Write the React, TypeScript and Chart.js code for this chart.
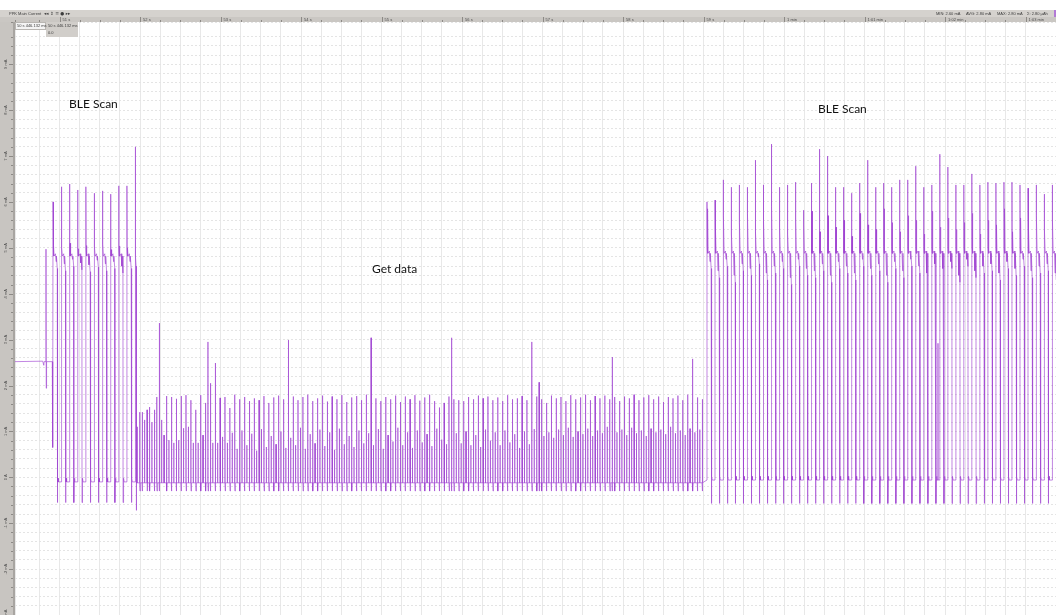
import React, { useEffect, useRef } from "react";
import { Chart, registerables } from "chart.js";

Chart.register(...registerables);

// ---------------- axes (time in s, current in mA) ----------------
const TIME_START = 50.446;
const TIME_END = 63.378;
const CURRENT_MIN = -3.0;
const CURRENT_MAX = 9.92;

const timeTickSeconds = [51, 52, 53, 54, 55, 56, 57, 58, 59, 60, 61, 62, 63];
const timeTickLabels = ["51 s", "52 s", "53 s", "54 s", "55 s", "56 s", "57 s", "58 s", "59 s", "1 min", "1:01 min", "1:02 min", "1:03 min"];
const currentTickValues = [9, 8, 7, 6, 5, 4, 3, 2, 1, 0, -1, -2, -3];
const currentTickLabels = ["9 mA", "8 mA", "7 mA", "6 mA", "5 mA", "4 mA", "3 mA", "2 mA", "1 mA", "0 A", "-1 mA", "-2 mA", "-3 mA"];

const statLabels = ["MIN: 2.60 mA", "AVG: 2.80 mA", "MAX: 2.80 mA", "Σ: 2.80 µAh"];
const cursorLabel = "50 s 446.132 ms";
const cursorValue = "0.0";
const channelLabel = "PPK Main Current";

// ---------------- idle section before the first scan: [time s, current mA] ----------------
const idleTrace = [
  [50.446, 2.52], [50.790, 2.53], [50.804, 2.44], [50.807, 2.52], [50.829, 2.52],
  [50.831, 4.97], [50.834, 1.94], [50.838, 2.52], [50.909, 2.52], [50.914, 0.65],
];

// ---------------- BLE scan 1 ----------------
const scan1Start = 50.918;
const scan1Period = 0.102;
const scan1Plateau = 4.82;
const scan1Floor = -0.1;
const scan1Dip = -0.55;
const scan1Peaks = [6.0, 6.33, 6.39, 6.26, 6.33, 6.19, 6.24, 6.17, 6.35, 6.35];
const scan1Bumps = [5.05, 5.0, 5.1, 4.98, 5.05, 5.02, 5.08, 4.96, 5.04, 5.0];
const scan1Lows = [4.55, 4.5, 4.6, 4.52, 4.48, 4.58, 4.5, 4.55, 4.45, 4.55];
const scan1Tail = [
  [51.938, -0.1], [51.9385, 7.2], [51.942, 5.0], [51.946, 4.82], [51.95, 4.6], [51.9525, -0.72], [51.957, -0.12],
];

// ---------------- Get data ----------------
const getDataStart = 51.965;
const getDataSpacing = 0.03025;
const getDataFloor = -0.12;
const getDataDip = -0.3;
const getDataPeaks = [
  1.10, 1.42, 1.42, 1.25, 1.47, 1.53, 1.20, 1.47, 1.75, 3.36,
  1.25, 0.92, 1.77, 0.81, 1.75, 0.75, 1.71, 0.81, 1.77, 1.07,
  1.79, 1.10, 1.68, 0.75, 1.47, 0.75, 1.79, 0.92, 1.62, 2.95,
  2.05, 0.75, 2.49, 0.75, 1.73, 0.88, 1.75, 0.75, 1.51, 0.97,
  1.80, 0.62, 1.70, 1.02, 1.75, 0.70, 1.66, 0.95, 1.72, 0.58,
  1.68, 1.05, 1.77, 0.66, 1.62, 0.90, 1.74, 0.72, 1.78, 1.00,
  1.70, 0.64, 2.99, 0.86, 1.76, 0.70, 1.68, 1.08, 1.75, 0.62,
  1.80, 0.94, 1.66, 0.74, 1.72, 1.04, 1.78, 0.68, 1.65, 0.98,
  1.76, 0.60, 1.70, 1.06, 1.79, 0.72, 1.64, 0.90, 1.74, 0.66,
  1.77, 1.02, 1.68, 0.74, 1.80, 0.96, 3.04, 0.70, 1.72, 1.05,
  1.66, 0.62, 1.75, 0.92, 1.70, 0.78, 1.78, 1.08, 1.64, 0.70,
  1.76, 0.98, 1.70, 0.64, 1.79, 1.02, 1.67, 0.76, 1.74, 0.94,
  1.80, 0.68, 1.66, 1.06, 1.52, 0.82, 1.62, 0.72, 1.76, 3.04,
  1.70, 0.96, 1.68, 0.74, 1.66, 1.00, 1.75, 0.70, 1.70, 0.92,
  1.78, 0.66, 1.72, 1.04, 1.76, 0.80, 1.68, 0.98, 1.74, 0.70,
  1.66, 1.02, 1.79, 0.76, 1.70, 0.94, 1.72, 0.64, 1.77, 1.00,
  1.68, 0.72, 2.95, 1.05, 1.76, 2.07, 1.70, 0.90, 1.62, 0.98,
  1.78, 0.86, 1.72, 1.04, 1.75, 0.92, 1.66, 1.08, 1.79, 0.88,
  1.70, 1.00, 1.74, 0.94, 1.80, 1.06, 1.68, 0.90, 1.77, 1.02,
  1.72, 0.96, 1.78, 1.10, 1.70, 2.62, 1.75, 0.98, 1.66, 1.04,
  1.76, 0.92, 1.72, 1.08, 1.80, 0.96, 1.68, 1.02, 1.74, 0.90,
  1.79, 1.06, 1.70, 0.98, 1.76, 1.04, 1.64, 0.94, 1.75, 1.10,
  1.72, 0.96, 1.78, 1.02, 1.68, 0.92, 1.80, 1.06, 2.58, 0.98,
  1.74, 1.04, 1.70,
];

// ---------------- BLE scan 2 ----------------
const scan2Start = 59.042;
const scan2Period = 0.0997;
const scan2Plateau = 4.88;
const scan2Floor = -0.06;
const scan2Dip = -0.57;
const scan2Peaks = [
  6.0, 6.04, 6.48, 6.32, 6.37, 6.32, 6.91, 6.37, 7.26, 6.32,
  6.37, 6.43, 5.82, 6.41, 7.15, 7.0, 6.32, 6.32, 6.19, 6.41,
  6.91, 6.32, 6.41, 6.32, 6.48, 6.48, 6.78, 6.32, 6.37, 7.04,
  6.76, 6.37, 6.37, 6.61, 6.37, 6.43, 6.41, 6.43, 6.43, 6.37,
  6.3, 6.37, 6.17, 6.37,
];
const scan2Bumps = [
  5.85, 5.4, 5.7, 5.3, 5.55, 5.75, 5.35, 5.6, 5.9, 5.45,
  5.3, 5.65, 5.5, 5.8, 5.35, 5.7, 5.45, 5.6, 5.25, 5.75,
  5.5, 5.4, 5.85, 5.55, 5.35, 5.7, 5.6, 5.3, 5.8, 5.45,
  5.65, 5.4, 5.55, 5.75, 5.3, 5.6, 5.5, 5.85, 5.35, 5.65,
  5.45, 5.7, 5.4, 5.6,
];
const scan2Lows = [
  4.55, 4.35, 4.6, 4.25, 4.5, 4.4, 4.65, 4.3, 4.45, 4.55,
  4.2, 4.6, 4.4, 4.35, 4.5, 4.25, 4.55, 4.45, 4.3, 4.6,
  4.4, 4.5, 4.25, 4.55, 4.35, 4.6, 4.45, 4.3, 4.5, 4.4,
  4.55, 4.25, 4.6, 4.35, 4.45, 4.5, 4.3, 4.55, 4.4, 4.6,
  4.35, 4.45, 4.5, 4.3,
];
const scan2Glitches = [
  [59.899, 2.4],
  [61.912, 2.92],
];

type Pt = { x: number; y: number };

function buildTrace(): Pt[] {
  const pts: Pt[] = [];
  const add = (x: number, y: number) => pts.push({ x, y });

  idleTrace.forEach(([t, v]) => add(t, v));

  const cycle = (
    ts: number, T: number, peak: number, bump: number, low: number,
    plateau: number, floor: number, dip: number, skipFloor: boolean
  ) => {
    if (!skipFloor) add(ts, floor);
    add(ts + 0.004 * T, peak);
    add(ts + 0.03 * T, plateau + 0.15);
    add(ts + 0.06 * T, plateau);
    add(ts + 0.09 * T, bump);
    add(ts + 0.14 * T, plateau);
    add(ts + 0.3 * T, plateau + 0.05);
    add(ts + 0.38 * T, low + 0.15);
    add(ts + 0.42 * T, plateau);
    add(ts + 0.52 * T, low);
    add(ts + 0.535 * T, dip);
    add(ts + 0.57 * T, floor);
    add(ts + 0.62 * T, floor + 0.08);
    add(ts + 0.66 * T, floor);
  };

  scan1Peaks.forEach((p, i) => {
    cycle(scan1Start + i * scan1Period, scan1Period, p, scan1Bumps[i], scan1Lows[i],
      scan1Plateau, scan1Floor, scan1Dip, i === 0);
  });
  scan1Tail.forEach(([t, v]) => add(t, v));

  getDataPeaks.forEach((p, i) => {
    const t = getDataStart + i * getDataSpacing;
    add(t - 0.0012, getDataFloor);
    add(t, p);
    add(t + 0.0012, getDataFloor);
    if (p > 1.4) {
      add(t + 0.004, getDataDip);
      add(t + 0.007, getDataFloor);
    }
  });

  scan2Peaks.forEach((p, i) => {
    cycle(scan2Start + i * scan2Period, scan2Period, p, scan2Bumps[i], scan2Lows[i],
      scan2Plateau, scan2Floor, scan2Dip, false);
  });
  scan2Glitches.forEach(([t, v]) => {
    add(t - 0.001, scan2Floor);
    add(t, v);
    add(t + 0.001, scan2Floor);
  });

  pts.sort((a, b) => a.x - b.x);
  return pts;
}

const TINY = "4px 'Liberation Sans', Arial, sans-serif";

const chromePlugin = {
  id: "ppkChrome",
  beforeDraw(chart: any) {
    const { ctx, width, height, chartArea } = chart;
    ctx.save();
    ctx.fillStyle = "#ffffff";
    ctx.fillRect(0, 0, width, height);
    // toolbar band
    ctx.fillStyle = "#d5d2ce";
    ctx.fillRect(0, 10, width, 7);
    // time band
    ctx.fillStyle = "#cac7c3";
    ctx.fillRect(0, 17, width, chartArea.top - 17);
    // left value strip
    ctx.fillStyle = "#c8c5c1";
    ctx.fillRect(0, chartArea.top, chartArea.left - 2, height - chartArea.top);
    ctx.fillStyle = "#a8a5a1";
    ctx.fillRect(chartArea.left - 2, chartArea.top, 2, height - chartArea.top);
    ctx.restore();
  },
  afterDraw(chart: any) {
    const { ctx, width, chartArea, scales } = chart;
    const xs = scales.x;
    const ys = scales.y;
    ctx.save();

    // time band ticks
    ctx.strokeStyle = "#8d8a86";
    ctx.lineWidth = 1;
    xs.ticks.forEach((t: any) => {
      const px = Math.round(xs.getPixelForValue(t.value)) + 0.5;
      const major = Math.abs(t.value - Math.round(t.value)) < 1e-6;
      ctx.beginPath();
      ctx.moveTo(px, major ? 17 : 20);
      ctx.lineTo(px, chartArea.top);
      ctx.stroke();
    });
    ctx.fillStyle = "#4a4a4a";
    ctx.font = TINY;
    ctx.textBaseline = "middle";
    ctx.textAlign = "left";
    timeTickSeconds.forEach((s, i) => {
      const px = xs.getPixelForValue(s);
      ctx.fillText(timeTickLabels[i], px + 3, 19.5);
    });

    // left strip ticks
    ys.ticks.forEach((t: any) => {
      const py = Math.round(ys.getPixelForValue(t.value)) + 0.5;
      const major = Math.abs(t.value - Math.round(t.value)) < 1e-6;
      ctx.beginPath();
      ctx.moveTo(major ? 9 : 11, py);
      ctx.lineTo(chartArea.left - 2, py);
      ctx.stroke();
    });
    ctx.textAlign = "center";
    currentTickValues.forEach((v, i) => {
      const py = ys.getPixelForValue(v);
      ctx.save();
      ctx.translate(5.5, py);
      ctx.rotate(-Math.PI / 2);
      ctx.fillText(currentTickLabels[i], 0, 0);
      ctx.restore();
    });

    // toolbar
    ctx.font = TINY;
    ctx.textAlign = "left";
    ctx.fillStyle = "#3c3c3c";
    ctx.fillText(channelLabel, 9, 13.5);
    ctx.font = "4.5px 'DejaVu Sans', sans-serif";
    ctx.fillText("◂◂ ⇕ ≡ ● ▸▸", 44, 13.5);
    ctx.font = TINY;
    const statX = [936, 966, 997, 1027];
    statLabels.forEach((s, i) => ctx.fillText(s, statX[i], 13.5));
    ctx.fillStyle = "#b27ad6";
    ctx.fillRect(width - 2, 10, 2, 7);

    // cursor readout boxes
    ctx.fillStyle = "#f4f4f4";
    ctx.fillRect(15, 22, 31, 8);
    ctx.strokeStyle = "#b9b6b2";
    ctx.strokeRect(15.5, 22.5, 30, 7);
    ctx.fillStyle = "#d1ceca";
    ctx.fillRect(46, 22, 32, 15);
    ctx.fillStyle = "#3c3c3c";
    ctx.fillText(cursorLabel, 17, 26);
    ctx.fillText(cursorLabel, 48, 26);
    ctx.fillText(cursorValue, 48, 32.5);

    ctx.restore();
  },
};

const annotationStyle: React.CSSProperties = {
  position: "absolute",
  font: "12px Lato, 'Liberation Sans', sans-serif",
  lineHeight: "12px",
  color: "#111",
  whiteSpace: "nowrap",
};

export default function App() {
  const canvasRef = useRef<HTMLCanvasElement | null>(null);

  useEffect(() => {
    document.body.style.margin = "0";
    const canvas = canvasRef.current;
    if (!canvas) return;
    const data = buildTrace();
    const chart = new Chart(canvas, {
      type: "line",
      data: {
        datasets: [
          {
            data: data as any,
            borderColor: "rgba(156, 62, 208, 0.62)",
            borderWidth: 1,
            pointRadius: 0,
            tension: 0,
            fill: false,
          },
        ],
      },
      options: {
        animation: false,
        responsive: false,
        maintainAspectRatio: false,
        devicePixelRatio: 1,
        events: [],
        layout: { padding: { left: 15, top: 22, right: 0, bottom: 0 } },
        plugins: {
          legend: { display: false },
          tooltip: { enabled: false },
          title: { display: false },
        },
        scales: {
          x: {
            type: "linear",
            min: TIME_START,
            max: TIME_END,
            ticks: { display: false, stepSize: 0.25 },
            grid: { color: "#e8e8e8", lineWidth: 1, drawTicks: false },
            border: { display: false },
          },
          y: {
            type: "linear",
            min: CURRENT_MIN,
            max: CURRENT_MAX,
            ticks: { display: false, stepSize: 0.2 },
            grid: { color: "#e4e4e4", lineWidth: 1, drawTicks: false },
            border: { display: false, dash: [2, 2] },
          },
        },
      },
      plugins: [chromePlugin],
    });
    return () => chart.destroy();
  }, []);

  return (
    <div style={{ position: "fixed", left: 0, top: 0, width: 1056, height: 615, overflow: "hidden", background: "#fff" }}>
      <canvas ref={canvasRef} width={1056} height={615} style={{ display: "block", width: 1056, height: 615 }} />
      <div style={{ ...annotationStyle, left: 69, top: 98 }}>BLE Scan</div>
      <div style={{ ...annotationStyle, left: 372, top: 263 }}>Get data</div>
      <div style={{ ...annotationStyle, left: 818, top: 103 }}>BLE Scan</div>
    </div>
  );
}
